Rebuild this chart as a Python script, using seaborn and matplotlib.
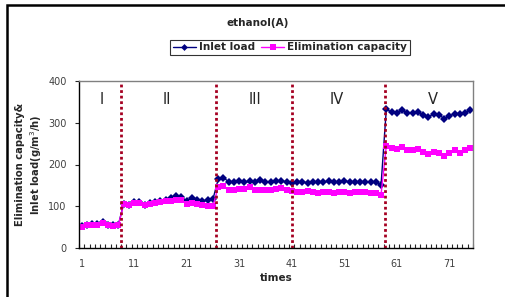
import pandas as pd
import matplotlib.pyplot as plt
import seaborn as sns
from matplotlib.patches import Rectangle
from matplotlib.ticker import MultipleLocator, FixedLocator

# Data (times 1..75, five operating periods)
times = list(range(1, 76))
inlet_load = [
    # I (1-8)
    52, 56, 57, 57, 62, 56, 54, 56,
    # II (9-26)
    106, 104, 110, 109, 104, 108, 110, 113, 115, 120, 125, 122, 113, 120, 116, 113, 114, 117,
    # III (27-41)
    165, 168, 159, 158, 160, 157, 160, 158, 162, 158, 157, 160, 161, 158, 156,
    # IV (42-58)
    157, 158, 156, 158, 157, 158, 160, 158, 157, 161, 158, 158, 158, 157, 158, 157, 152,
    # V (59-75)
    333, 325, 324, 331, 323, 323, 325, 319, 313, 322, 319, 310, 316, 322, 322, 324, 331,
]
elimination = [
    51, 55, 56, 56, 60, 55, 53, 55,
    105, 102, 108, 107, 102, 106, 108, 110, 112, 113, 116, 114, 105, 108, 105, 103, 100, 100,
    146, 148, 140, 140, 141, 142, 145, 140, 140, 139, 138, 142, 143, 139, 137,
    135, 134, 136, 133, 132, 135, 133, 131, 134, 133, 131, 134, 133, 134, 132, 131, 128,
    245, 239, 237, 241, 235, 235, 238, 231, 225, 231, 228, 221, 227, 235, 228, 235, 240,
]
period_bounds = [8.4, 26.5, 41.1, 58.7]
period_labels = ["I", "II", "III", "IV", "V"]
period_label_x = [4.8, 17.2, 34.0, 49.5, 67.8]

df = pd.DataFrame({
    "times": times * 2,
    "value": inlet_load + elimination,
    "series": ["Inlet load"] * len(times) + ["Elimination capacity"] * len(times),
})

sns.set_style("white")
plt.rcParams["font.family"] = ["DejaVu Sans"]

fig = plt.figure(figsize=(5.05, 2.97), dpi=100)
ax = fig.add_axes([79 / 505, 1 - 248 / 297, 394 / 505, 167 / 297])

sns.lineplot(data=df, x="times", y="value", hue="series", style="series",
             palette={"Inlet load": "#000080", "Elimination capacity": "#FF00FF"},
             markers={"Inlet load": "D", "Elimination capacity": "s"},
             dashes=False, linewidth=1, ax=ax, legend=False)
# marker sizes
ax.lines[0].set_markersize(4)
ax.lines[1].set_markersize(5)
for ln in ax.lines:
    ln.set_markeredgewidth(0)

for xb in period_bounds:
    ax.axvline(xb, color="#A50021", linestyle=(0, (1, 1)), linewidth=2)

for xl, lab in zip(period_label_x, period_labels):
    ax.text(xl, 355, lab, ha="center", va="center", fontsize=10.5)

ax.set_xlim(0.5, 75.5)
ax.set_ylim(0, 400)
ax.set_yticks([0, 100, 200, 300, 400])
ax.xaxis.set_major_locator(FixedLocator(list(range(1, 76, 10))))
ax.xaxis.set_minor_locator(MultipleLocator(1, offset=0.5))
ax.tick_params(axis="x", which="major", length=0, pad=8, labelsize=7, labelcolor="#404040")
ax.tick_params(axis="x", which="minor", direction="in", length=3, width=0.8, bottom=True)
ax.tick_params(axis="y", which="major", direction="out", length=3, width=0.8, left=True,
               labelsize=7, labelcolor="#404040", pad=6)

for side in ["left", "bottom"]:
    ax.spines[side].set_color("black")
    ax.spines[side].set_linewidth(1)
for side in ["top", "right"]:
    ax.spines[side].set_color("#808080")
    ax.spines[side].set_linewidth(1)

ax.set_xlabel("times", fontsize=7.5, fontweight="bold", labelpad=3)
ax.set_ylabel("Elimination capacity&\nInlet load(g/m$^3$/h)", fontsize=7.2,
              fontweight="bold", labelpad=3, linespacing=1.25)

fig.text(258 / 505, 1 - 23 / 297, "ethanol(A)", ha="center", va="center",
         fontsize=7.5, fontweight="bold")

handles = [
    plt.Line2D([], [], color="#000080", marker="D", markersize=3.5, lw=1, markeredgewidth=0),
    plt.Line2D([], [], color="#FF00FF", marker="s", markersize=4.5, lw=1, markeredgewidth=0),
]
leg = fig.legend(handles, ["Inlet load", "Elimination capacity"], loc="center",
                 bbox_to_anchor=(290 / 505, 1 - 47.5 / 297), ncol=2, fontsize=7.5,
                 frameon=True, fancybox=False, edgecolor="black", handlelength=2.2,
                 handletextpad=0.3, columnspacing=0.6, borderpad=0.25)
leg.get_frame().set_linewidth(0.8)
for t in leg.get_texts():
    t.set_fontweight("bold")

# outer chart frame
fig.patches.append(Rectangle((7 / 505, -0.1), 1.2, 1.1 - 5 / 297, transform=fig.transFigure,
                             fill=False, edgecolor="black", linewidth=1.8))

fig.savefig("out.png", dpi=100)
